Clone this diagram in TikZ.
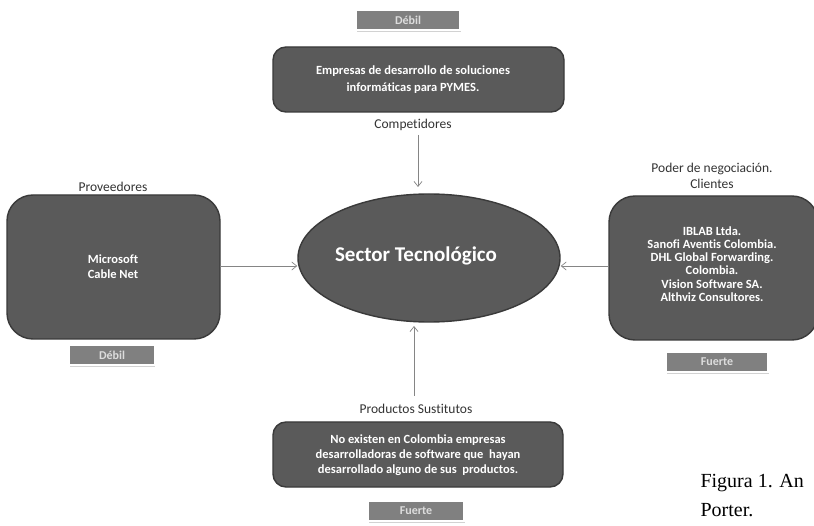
\documentclass[tikz,border=0pt]{standalone}
\usepackage{fontspec}
\setmainfont[Ligatures=NoCommon]{Carlito}
\newfontfamily\capfont{Liberation Serif}
\usetikzlibrary{shapes.geometric,arrows.meta,shadows}
\definecolor{boxfill}{HTML}{5A5A5A}
\definecolor{boxline}{HTML}{3A3A3A}
\definecolor{tagfill}{HTML}{808080}
\definecolor{tagtext}{HTML}{DDDDDD}
\definecolor{linkgray}{HTML}{858585}
\definecolor{labeltext}{HTML}{333333}
\tikzset{
  force/.style={draw=boxline, line width=1.4pt, fill=boxfill, text=white,
    font=\bfseries\fontsize{12.5}{15}\selectfont, align=center, inner sep=0pt},
  tag/.style={draw=white, line width=1.5pt, fill=tagfill, text=tagtext,
    font=\bfseries\fontsize{12}{13}\selectfont, minimum height=20pt, inner sep=0pt,
    drop shadow={shadow xshift=0.6pt, shadow yshift=-1.6pt, opacity=0.35}},
  heading/.style={text=labeltext, font=\fontsize{13.5}{16}\selectfont, align=center},
  link/.style={draw=linkgray, line width=0.7pt, -{Straight Barb[length=5pt,width=8pt]}},
}
\begin{document}
\begin{tikzpicture}[x=1pt, y=-1pt]
\useasboundingbox[fill=white] (0,0) rectangle (814,526);

% central sector
\node[ellipse, draw=boxline, line width=1.4pt, fill=boxfill,
  minimum width=262pt, minimum height=128pt] (sector) at (429,258) {};
\node[text=white, font=\bfseries\fontsize{21}{24}\selectfont] (sectorlbl) at (416,256) {Sector Tecnológico};

% competitors (top)
\node[tag, minimum width=104pt] (tagtop) at (408,20) {Débil};
\draw[force, rounded corners=13pt] (273,47) rectangle (564,112);
\node[force, draw=none, fill=none, font=\bfseries\fontsize{12.5}{17}\selectfont] (comp) at (413,80)
  {Empresas de desarrollo de soluciones\\informáticas para PYMES.};
\node[heading] (complbl) at (413,125) {Competidores};
\coordinate (compout) at (418,135);

% suppliers (left)
\draw[force, rounded corners=26pt] (7,195) rectangle (220,339);
\node[force, draw=none, fill=none] (prov) at (113,267) {Microsoft\\Cable Net};
\node[heading] (provlbl) at (113,187) {Proveedores};
\node[tag, minimum width=85pt] (tagleft) at (112,355) {Débil};
\coordinate (provout) at (220,266);

% clients (right)
\draw[force, rounded corners=26pt] (609,196) rectangle (818,340);
\node[force, draw=none, fill=none, font=\bfseries\fontsize{12.5}{13.3}\selectfont] (cli) at (712,264)
  {IBLAB Ltda.\\Sanofi Aventis Colombia.\\DHL Global Forwarding.\\Colombia.\\Vision Software SA.\\Althviz Consultores.};
\node[heading] (clilbl) at (712,176) {Poder de negociación.\\Clientes};
\node[tag, minimum width=102pt] (tagright) at (717,362) {Fuerte};
\coordinate (cliout) at (609,266);

% substitutes (bottom)
\draw[force, rounded corners=13pt] (273,422) rectangle (563,487);
\node[force, draw=none, fill=none] (sust) at (418,455)
  {No existen en Colombia empresas\\desarrolladoras de software que \ hayan\\desarrollado alguno de sus \ productos.};
\node[heading] (sustlbl) at (416,409) {Productos Sustitutos};
\node[tag, minimum width=96pt] (tagbottom) at (416,511) {Fuerte};
\coordinate (sustout) at (414,396);

% connectors into the sector
\draw[link] (compout) -- (418,187);
\draw[link] (provout) -- (sector.west |- provout);
\draw[link] (cliout) -- (sector.east |- cliout);
\draw[link] (sustout) -- (414,326);

% caption
\node[anchor=west, font=\capfont\fontsize{20}{29}\selectfont, align=left] (caption) at (697,496)
  {Figura 1. An\\Porter.};
\end{tikzpicture}
\end{document}
